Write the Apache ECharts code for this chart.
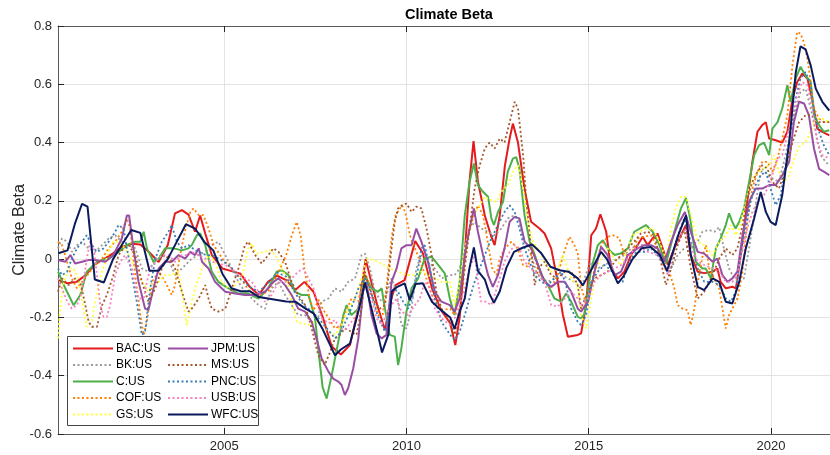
<!DOCTYPE html>
<html>
<head>
<meta charset="utf-8">
<script src="https://cdn.jsdelivr.net/npm/echarts@6/dist/echarts.min.js"></script>
<style>
  html, body { margin: 0; padding: 0; background: #fff; }
  #chart { width: 830px; height: 455px; }
</style>
</head>
<body>
<div id="chart"></div>
<script>
// [year, beta] pairs
var bacData = [[2000.45,-0.072],[2000.7,-0.083],[2000.95,-0.078],[2001.2,-0.055],[2001.45,-0.018],[2001.7,0.0],[2001.95,0.02],[2002.2,0.042],[2002.45,0.053],[2002.7,0.05],[2002.95,0.023],[2003.2,-0.01],[2003.45,0.048],[2003.65,0.157],[2003.84,0.168],[2004.02,0.153],[2004.2,0.094],[2004.34,0.15],[2004.48,0.088],[2004.66,0.014],[2004.95,-0.032],[2005.2,-0.041],[2005.45,-0.05],[2005.7,-0.095],[2005.95,-0.123],[2006.2,-0.078],[2006.45,-0.057],[2006.7,-0.072],[2006.95,-0.106],[2007.2,-0.078],[2007.45,-0.112],[2007.7,-0.198],[2007.95,-0.3],[2008.2,-0.327],[2008.45,-0.295],[2008.7,-0.158],[2008.88,0.0],[2009.0,-0.06],[2009.2,-0.158],[2009.41,-0.243],[2009.55,-0.15],[2009.7,-0.089],[2009.95,-0.072],[2010.24,0.062],[2010.45,0.02],[2010.7,-0.1],[2010.95,-0.175],[2011.2,-0.22],[2011.34,-0.295],[2011.46,-0.2],[2011.6,0.014],[2011.73,0.267],[2011.84,0.405],[2011.96,0.267],[2012.15,0.15],[2012.32,0.08],[2012.42,0.048],[2012.56,0.15],[2012.7,0.32],[2012.83,0.414],[2012.92,0.465],[2013.06,0.4],[2013.24,0.24],[2013.42,0.128],[2013.65,0.105],[2013.79,0.088],[2013.97,0.037],[2014.15,-0.077],[2014.29,-0.19],[2014.43,-0.266],[2014.7,-0.26],[2014.79,-0.255],[2014.93,-0.158],[2015.07,0.082],[2015.2,0.105],[2015.32,0.154],[2015.48,0.094],[2015.61,-0.032],[2015.8,-0.066],[2015.98,-0.043],[2016.16,0.014],[2016.34,0.048],[2016.48,0.077],[2016.62,0.048],[2016.75,0.071],[2016.89,0.088],[2017.03,0.037],[2017.17,-0.02],[2017.35,0.037],[2017.53,0.082],[2017.67,0.117],[2017.8,0.014],[2017.99,-0.043],[2018.17,-0.048],[2018.4,-0.043],[2018.53,-0.032],[2018.62,-0.078],[2018.76,-0.1],[2018.95,-0.095],[2019.04,-0.1],[2019.17,0.014],[2019.35,0.197],[2019.49,0.334],[2019.63,0.437],[2019.76,0.46],[2019.86,0.47],[2019.95,0.414],[2020.13,0.408],[2020.31,0.4],[2020.45,0.437],[2020.59,0.55],[2020.72,0.608],[2020.86,0.637],[2021.0,0.62],[2021.13,0.55],[2021.27,0.448],[2021.41,0.437],[2021.6,0.425]];

var bkData = [[2000.44,0.037],[2000.55,0.071],[2000.69,0.06],[2000.82,0.025],[2000.96,0.048],[2001.1,0.06],[2001.28,0.037],[2001.46,0.025],[2001.65,0.048],[2001.83,0.071],[2002.01,0.082],[2002.19,0.06],[2002.38,0.048],[2002.56,0.037],[2002.74,-0.032],[2002.92,-0.043],[2003.11,0.002],[2003.29,0.014],[2003.47,0.002],[2003.65,-0.055],[2003.84,-0.032],[2004.02,-0.009],[2004.11,0.002],[2004.3,0.014],[2004.48,0.025],[2004.66,0.048],[2004.84,0.06],[2005.03,0.014],[2005.21,-0.032],[2005.39,-0.078],[2005.57,-0.112],[2005.76,-0.135],[2005.94,-0.158],[2006.12,-0.17],[2006.3,-0.1],[2006.49,-0.078],[2006.67,-0.123],[2006.85,-0.158],[2007.03,-0.192],[2007.22,-0.192],[2007.4,-0.215],[2007.58,-0.2],[2007.67,-0.146],[2007.86,-0.135],[2008.04,-0.1],[2008.22,-0.112],[2008.4,-0.078],[2008.59,-0.066],[2008.77,0.014],[2008.86,0.019],[2009.0,-0.032],[2009.13,-0.112],[2009.32,-0.146],[2009.45,-0.123],[2009.59,-0.066],[2009.73,-0.112],[2009.86,-0.226],[2010.0,-0.238],[2010.14,-0.17],[2010.27,-0.032],[2010.41,0.014],[2010.59,-0.009],[2010.78,-0.032],[2010.96,-0.066],[2011.19,-0.055],[2011.32,-0.055],[2011.46,-0.032],[2011.6,0.037],[2011.73,0.105],[2011.87,0.128],[2012.05,0.105],[2012.24,0.094],[2012.42,0.082],[2012.6,0.105],[2012.78,0.14],[2012.97,0.151],[2013.1,0.128],[2013.24,0.06],[2013.42,0.014],[2013.56,-0.043],[2013.7,-0.066],[2013.88,-0.078],[2014.06,-0.066],[2014.25,-0.055],[2014.43,-0.066],[2014.61,-0.078],[2014.79,-0.1],[2014.98,-0.032],[2015.07,-0.009],[2015.25,-0.032],[2015.43,-0.02],[2015.61,-0.009],[2015.8,0.002],[2015.98,0.014],[2016.16,0.037],[2016.34,0.048],[2016.53,0.048],[2016.71,0.042],[2016.89,0.037],[2017.08,0.002],[2017.26,-0.032],[2017.44,0.014],[2017.62,0.037],[2017.8,0.048],[2017.99,0.06],[2018.12,0.094],[2018.3,0.1],[2018.45,0.094],[2018.58,0.11],[2018.71,0.037],[2018.85,-0.032],[2018.99,-0.066],[2019.13,-0.078],[2019.26,-0.066],[2019.4,0.037],[2019.54,0.151],[2019.67,0.265],[2019.76,0.311],[2019.9,0.288],[2020.04,0.277],[2020.22,0.265],[2020.4,0.357],[2020.54,0.437],[2020.68,0.517],[2020.81,0.574],[2020.95,0.585],[2021.09,0.517],[2021.23,0.437],[2021.36,0.357],[2021.5,0.334],[2021.6,0.322]];

var cData = [[2000.44,-0.043],[2000.64,-0.1],[2000.87,-0.158],[2001.05,-0.123],[2001.23,-0.043],[2001.51,-0.009],[2001.83,0.002],[2002.1,0.025],[2002.33,0.048],[2002.56,0.06],[2002.7,0.06],[2002.79,0.094],[2002.88,0.037],[2003.06,-0.009],[2003.2,0.0],[2003.38,0.037],[2003.61,0.037],[2003.84,0.03],[2004.02,0.037],[2004.11,0.048],[2004.25,0.082],[2004.34,0.088],[2004.48,0.048],[2004.66,-0.043],[2004.84,-0.078],[2005.12,-0.1],[2005.39,-0.118],[2005.66,-0.118],[2005.94,-0.135],[2006.21,-0.1],[2006.44,-0.043],[2006.58,-0.038],[2006.76,-0.055],[2006.94,-0.112],[2007.13,-0.123],[2007.31,-0.123],[2007.49,-0.2],[2007.6,-0.33],[2007.7,-0.44],[2007.81,-0.478],[2007.95,-0.398],[2008.13,-0.283],[2008.27,-0.192],[2008.36,-0.158],[2008.49,-0.192],[2008.68,-0.17],[2008.86,-0.055],[2009.04,-0.1],[2009.22,-0.112],[2009.32,-0.1],[2009.41,-0.17],[2009.54,-0.26],[2009.68,-0.266],[2009.77,-0.363],[2009.86,-0.306],[2010.0,-0.18],[2010.14,-0.1],[2010.32,-0.066],[2010.5,0.002],[2010.69,0.008],[2010.87,-0.02],[2011.05,-0.049],[2011.19,-0.135],[2011.32,-0.192],[2011.46,-0.078],[2011.6,0.15],[2011.73,0.265],[2011.85,0.328],[2011.96,0.254],[2012.1,0.231],[2012.24,0.214],[2012.33,0.14],[2012.4,0.117],[2012.51,0.162],[2012.65,0.197],[2012.78,0.3],[2012.92,0.345],[2013.01,0.35],[2013.1,0.31],[2013.24,0.15],[2013.38,0.06],[2013.52,0.014],[2013.7,-0.055],[2013.88,-0.089],[2014.06,-0.135],[2014.25,-0.146],[2014.38,-0.118],[2014.52,-0.146],[2014.7,-0.198],[2014.79,-0.203],[2014.88,-0.19],[2015.07,-0.032],[2015.25,0.048],[2015.39,0.065],[2015.52,0.037],[2015.71,0.014],[2015.89,0.02],[2016.07,0.037],[2016.25,0.094],[2016.57,0.117],[2016.76,0.094],[2016.94,0.048],[2017.12,-0.015],[2017.35,0.094],[2017.53,0.174],[2017.67,0.21],[2017.8,0.128],[2017.94,-0.009],[2018.12,-0.032],[2018.21,-0.032],[2018.35,-0.066],[2018.49,0.037],[2018.62,0.071],[2018.76,0.117],[2018.85,0.157],[2018.94,0.128],[2019.03,0.105],[2019.13,0.128],[2019.26,0.174],[2019.4,0.265],[2019.54,0.357],[2019.67,0.39],[2019.81,0.4],[2019.95,0.357],[2020.04,0.448],[2020.18,0.47],[2020.31,0.517],[2020.45,0.597],[2020.54,0.54],[2020.68,0.62],[2020.81,0.66],[2020.95,0.63],[2021.09,0.608],[2021.18,0.494],[2021.32,0.46],[2021.45,0.437],[2021.6,0.442]];

var cofData = [[2000.44,0.06],[2000.55,0.048],[2000.69,-0.009],[2000.82,-0.066],[2000.96,-0.1],[2001.1,-0.078],[2001.28,-0.05],[2001.46,-0.02],[2001.65,0.002],[2001.83,0.037],[2002.01,0.06],[2002.19,0.094],[2002.33,0.14],[2002.42,0.105],[2002.56,-0.055],[2002.7,-0.192],[2002.79,-0.26],[2002.88,-0.215],[2003.02,-0.078],[2003.2,-0.043],[2003.38,-0.078],[2003.56,-0.123],[2003.65,-0.089],[2003.79,0.014],[2003.93,0.1],[2004.07,0.162],[2004.16,0.174],[2004.3,0.151],[2004.43,0.151],[2004.57,0.105],[2004.71,0.048],[2004.95,0.002],[2005.2,-0.032],[2005.45,-0.066],[2005.7,-0.112],[2005.95,-0.123],[2006.2,-0.112],[2006.45,-0.055],[2006.7,0.014],[2006.85,0.08],[2006.99,0.128],[2007.1,0.08],[2007.2,-0.032],[2007.35,-0.14],[2007.45,-0.175],[2007.6,-0.14],[2007.7,-0.17],[2007.95,-0.22],[2008.04,-0.238],[2008.2,-0.226],[2008.49,-0.135],[2008.68,-0.145],[2008.86,-0.043],[2009.0,-0.1],[2009.22,-0.192],[2009.35,-0.19],[2009.45,-0.1],[2009.6,0.08],[2009.7,0.15],[2009.88,0.185],[2009.97,0.16],[2010.1,0.08],[2010.2,0.048],[2010.45,-0.032],[2010.7,-0.123],[2010.95,-0.175],[2011.2,-0.17],[2011.32,-0.192],[2011.45,-0.13],[2011.7,0.082],[2011.85,0.15],[2011.96,0.185],[2012.1,0.15],[2012.2,0.082],[2012.35,-0.03],[2012.47,-0.055],[2012.56,0.002],[2012.7,0.037],[2012.88,0.06],[2013.05,0.037],[2013.2,-0.02],[2013.33,-0.026],[2013.47,0.037],[2013.6,-0.032],[2013.79,-0.078],[2013.97,-0.1],[2014.15,-0.055],[2014.3,0.014],[2014.47,0.077],[2014.6,0.05],[2014.7,0.02],[2014.79,-0.09],[2014.93,-0.158],[2015.02,-0.12],[2015.16,-0.032],[2015.34,0.048],[2015.52,0.077],[2015.71,0.082],[2015.84,0.071],[2015.98,0.014],[2016.16,0.014],[2016.34,0.071],[2016.53,0.077],[2016.71,0.082],[2016.89,0.037],[2017.08,-0.03],[2017.21,-0.043],[2017.35,-0.1],[2017.44,-0.158],[2017.58,-0.17],[2017.71,-0.175],[2017.8,-0.226],[2017.9,-0.17],[2017.99,-0.078],[2018.13,0.014],[2018.22,0.048],[2018.3,-0.03],[2018.44,-0.066],[2018.58,-0.1],[2018.67,-0.17],[2018.76,-0.238],[2018.85,-0.192],[2018.94,-0.17],[2019.08,-0.135],[2019.22,-0.043],[2019.35,0.128],[2019.49,0.242],[2019.63,0.3],[2019.76,0.334],[2019.9,0.334],[2020.04,0.3],[2020.18,0.345],[2020.31,0.414],[2020.45,0.494],[2020.59,0.665],[2020.72,0.78],[2020.81,0.774],[2020.9,0.745],[2021.0,0.688],[2021.09,0.608],[2021.18,0.517],[2021.32,0.482],[2021.45,0.47],[2021.6,0.47]];

var gsData = [[2000.44,-0.272],[2000.5,-0.17],[2000.6,-0.078],[2000.73,-0.032],[2000.87,-0.032],[2001.0,-0.066],[2001.14,-0.17],[2001.23,-0.232],[2001.37,-0.215],[2001.46,-0.146],[2001.65,-0.043],[2001.83,0.025],[2001.96,0.06],[2002.1,0.06],[2002.28,0.037],[2002.47,-0.009],[2002.7,-0.066],[2002.92,-0.112],[2003.06,-0.078],[2003.2,-0.078],[2003.38,-0.055],[2003.56,-0.055],[2003.75,-0.043],[2003.88,-0.146],[2003.97,-0.226],[2004.07,-0.17],[2004.2,-0.1],[2004.39,-0.032],[2004.57,0.014],[2004.75,-0.009],[2004.93,-0.078],[2005.12,-0.1],[2005.3,-0.089],[2005.48,-0.066],[2005.66,0.037],[2005.76,0.054],[2005.89,0.019],[2006.08,0.025],[2006.26,0.031],[2006.4,0.014],[2006.58,-0.032],[2006.71,-0.066],[2006.85,-0.146],[2006.99,-0.215],[2007.13,-0.22],[2007.31,-0.226],[2007.49,-0.215],[2007.67,-0.215],[2007.86,-0.249],[2008.04,-0.26],[2008.22,-0.226],[2008.4,-0.17],[2008.59,-0.135],[2008.77,-0.066],[2008.9,0.002],[2009.09,-0.003],[2009.32,-0.015],[2009.54,-0.032],[2009.77,-0.043],[2010.0,-0.055],[2010.23,-0.055],[2010.41,-0.043],[2010.59,-0.055],[2010.78,-0.066],[2010.96,-0.078],[2011.19,-0.078],[2011.32,-0.158],[2011.46,-0.078],[2011.6,0.037],[2011.73,0.105],[2011.87,0.162],[2012.01,0.185],[2012.15,0.214],[2012.33,0.202],[2012.47,0.197],[2012.6,0.231],[2012.78,0.254],[2012.92,0.3],[2013.06,0.322],[2013.2,0.242],[2013.33,0.128],[2013.47,0.06],[2013.61,0.037],[2013.79,-0.009],[2013.97,-0.043],[2014.15,-0.032],[2014.29,0.014],[2014.38,-0.02],[2014.52,-0.066],[2014.7,-0.089],[2014.79,-0.192],[2014.93,-0.238],[2015.07,-0.135],[2015.2,-0.032],[2015.39,0.014],[2015.52,0.037],[2015.71,0.002],[2015.89,-0.02],[2016.07,0.037],[2016.21,0.082],[2016.39,0.094],[2016.57,0.105],[2016.76,0.105],[2016.94,0.06],[2017.12,0.002],[2017.26,0.105],[2017.39,0.174],[2017.53,0.214],[2017.67,0.214],[2017.8,0.151],[2017.99,0.06],[2018.17,0.048],[2018.4,0.014],[2018.58,0.06],[2018.76,0.082],[2018.9,0.117],[2019.03,0.082],[2019.13,0.105],[2019.26,0.174],[2019.4,0.242],[2019.54,0.288],[2019.67,0.3],[2019.81,0.311],[2019.95,0.322],[2020.08,0.357],[2020.22,0.3],[2020.36,0.265],[2020.5,0.288],[2020.63,0.345],[2020.77,0.385],[2020.95,0.402],[2021.09,0.437],[2021.23,0.482],[2021.41,0.482],[2021.6,0.47]];

var jpmData = [[2000.44,-0.003],[2000.64,-0.009],[2000.78,0.014],[2000.91,-0.015],[2001.1,-0.009],[2001.28,-0.003],[2001.46,-0.003],[2001.74,-0.009],[2001.96,0.014],[2002.19,0.071],[2002.33,0.15],[2002.39,0.15],[2002.51,0.037],[2002.65,-0.078],[2002.83,-0.17],[2002.92,-0.175],[2003.06,-0.1],[2003.2,-0.032],[2003.38,-0.009],[2003.56,-0.009],[2003.75,0.014],[2003.93,0.002],[2004.07,0.025],[2004.2,0.014],[2004.3,0.037],[2004.39,-0.009],[2004.57,-0.032],[2004.75,-0.078],[2004.84,-0.089],[2005.03,-0.112],[2005.3,-0.118],[2005.57,-0.123],[2005.85,-0.123],[2006.12,-0.112],[2006.35,-0.078],[2006.49,-0.066],[2006.67,-0.089],[2006.85,-0.123],[2007.03,-0.17],[2007.22,-0.18],[2007.4,-0.215],[2007.58,-0.295],[2007.67,-0.34],[2007.86,-0.386],[2007.99,-0.41],[2008.13,-0.42],[2008.22,-0.432],[2008.31,-0.466],[2008.4,-0.443],[2008.54,-0.375],[2008.68,-0.272],[2008.81,-0.112],[2008.9,-0.078],[2009.04,-0.192],[2009.18,-0.255],[2009.32,-0.272],[2009.45,-0.26],[2009.59,-0.078],[2009.73,-0.032],[2009.86,0.037],[2010.0,0.048],[2010.14,0.048],[2010.27,0.105],[2010.41,0.06],[2010.59,-0.009],[2010.78,-0.112],[2010.96,-0.146],[2011.19,-0.158],[2011.32,-0.18],[2011.46,-0.135],[2011.6,0.014],[2011.73,0.105],[2011.85,0.174],[2011.96,0.094],[2012.1,0.014],[2012.24,-0.055],[2012.37,-0.095],[2012.51,-0.055],[2012.69,0.037],[2012.83,0.128],[2012.97,0.145],[2013.1,0.14],[2013.24,0.06],[2013.42,0.037],[2013.61,-0.02],[2013.79,-0.078],[2013.97,-0.095],[2014.15,-0.078],[2014.34,-0.078],[2014.52,-0.112],[2014.7,-0.17],[2014.79,-0.18],[2014.98,-0.146],[2015.16,-0.043],[2015.34,0.042],[2015.52,0.014],[2015.71,-0.055],[2015.89,-0.043],[2016.07,0.014],[2016.34,0.037],[2016.53,0.048],[2016.71,0.048],[2016.89,0.037],[2017.08,-0.009],[2017.26,0.06],[2017.44,0.117],[2017.64,0.162],[2017.8,0.094],[2017.99,0.025],[2018.17,0.019],[2018.4,-0.009],[2018.53,0.002],[2018.67,-0.055],[2018.81,-0.078],[2018.94,-0.066],[2019.08,-0.043],[2019.22,0.082],[2019.4,0.197],[2019.58,0.242],[2019.76,0.242],[2019.95,0.254],[2020.13,0.254],[2020.31,0.288],[2020.5,0.334],[2020.63,0.471],[2020.77,0.54],[2020.91,0.534],[2021.04,0.494],[2021.18,0.38],[2021.32,0.31],[2021.45,0.3],[2021.6,0.288]];

var msData = [[2000.44,-0.112],[2000.55,-0.066],[2000.73,-0.089],[2000.91,-0.066],[2001.05,-0.078],[2001.19,-0.158],[2001.28,-0.215],[2001.37,-0.232],[2001.51,-0.232],[2001.65,-0.158],[2001.78,-0.123],[2001.96,-0.055],[2002.1,0.014],[2002.24,0.037],[2002.38,0.048],[2002.56,0.014],[2002.74,-0.078],[2002.92,-0.146],[2003.11,-0.1],[2003.29,-0.032],[2003.47,0.014],[2003.65,-0.032],[2003.84,-0.112],[2004.02,-0.18],[2004.11,-0.17],[2004.3,-0.135],[2004.48,-0.089],[2004.57,-0.135],[2004.66,-0.17],[2004.84,-0.18],[2005.03,-0.17],[2005.21,-0.1],[2005.39,-0.032],[2005.57,0.048],[2005.66,0.06],[2005.85,0.014],[2006.03,-0.015],[2006.21,0.014],[2006.35,0.037],[2006.49,0.025],[2006.67,-0.009],[2006.85,-0.078],[2007.03,-0.123],[2007.22,-0.158],[2007.4,-0.238],[2007.58,-0.33],[2007.76,-0.363],[2007.9,-0.32],[2008.04,-0.272],[2008.17,-0.26],[2008.31,-0.238],[2008.49,-0.249],[2008.63,-0.26],[2008.77,-0.17],[2008.86,-0.043],[2009.0,-0.112],[2009.13,-0.146],[2009.27,-0.17],[2009.41,-0.158],[2009.5,-0.066],[2009.59,0.037],[2009.68,0.128],[2009.77,0.174],[2009.88,0.185],[2010.0,0.191],[2010.14,0.162],[2010.27,0.18],[2010.41,0.174],[2010.55,0.105],[2010.69,0.014],[2010.82,-0.112],[2010.96,-0.17],[2011.19,-0.215],[2011.32,-0.26],[2011.46,-0.17],[2011.6,-0.032],[2011.73,0.105],[2011.87,0.242],[2012.01,0.322],[2012.15,0.38],[2012.28,0.4],[2012.42,0.38],[2012.56,0.414],[2012.69,0.4],[2012.83,0.47],[2012.97,0.54],[2013.06,0.517],[2013.2,0.357],[2013.29,0.197],[2013.42,0.037],[2013.52,-0.089],[2013.61,-0.032],[2013.79,-0.009],[2013.97,-0.055],[2014.15,-0.066],[2014.34,-0.043],[2014.52,-0.043],[2014.7,-0.089],[2014.79,-0.17],[2014.98,-0.11],[2015.16,-0.066],[2015.34,-0.055],[2015.52,-0.043],[2015.71,-0.009],[2015.89,0.014],[2016.07,0.037],[2016.25,0.06],[2016.43,0.088],[2016.62,0.094],[2016.8,0.082],[2016.98,-0.009],[2017.12,-0.089],[2017.26,-0.032],[2017.44,0.048],[2017.62,0.105],[2017.8,-0.03],[2017.99,-0.135],[2018.17,-0.112],[2018.4,-0.055],[2018.58,0.002],[2018.76,0.037],[2018.94,0.014],[2019.08,0.037],[2019.22,0.117],[2019.35,0.208],[2019.49,0.265],[2019.63,0.3],[2019.76,0.322],[2019.9,0.311],[2020.04,0.265],[2020.22,0.242],[2020.4,0.31],[2020.59,0.4],[2020.77,0.47],[2020.95,0.494],[2021.13,0.494],[2021.32,0.47],[2021.6,0.47]];

var pncData = [[2000.44,-0.032],[2000.55,-0.055],[2000.69,-0.043],[2000.82,0.002],[2000.96,0.037],[2001.1,0.06],[2001.23,0.082],[2001.37,0.048],[2001.51,0.025],[2001.69,0.037],[2001.83,0.06],[2002.01,0.094],[2002.1,0.117],[2002.24,0.105],[2002.33,0.037],[2002.47,-0.055],[2002.6,-0.146],[2002.74,-0.26],[2002.83,-0.249],[2002.97,-0.1],[2003.11,0.002],[2003.29,0.06],[2003.47,0.094],[2003.56,0.117],[2003.7,0.06],[2003.84,0.037],[2004.02,0.048],[2004.2,0.031],[2004.45,0.016],[2004.7,0.011],[2004.95,-0.005],[2005.2,-0.03],[2005.45,-0.069],[2005.7,-0.095],[2005.95,-0.112],[2006.2,-0.083],[2006.45,-0.046],[2006.7,-0.06],[2006.95,-0.118],[2007.2,-0.16],[2007.45,-0.184],[2007.7,-0.22],[2008.04,-0.272],[2008.2,-0.251],[2008.45,-0.18],[2008.7,-0.095],[2008.86,-0.066],[2009.0,-0.1],[2009.2,-0.19],[2009.41,-0.249],[2009.5,-0.19],[2009.64,-0.1],[2009.77,-0.112],[2009.91,-0.146],[2010.05,-0.17],[2010.18,-0.123],[2010.32,-0.032],[2010.41,0.037],[2010.5,0.048],[2010.64,-0.032],[2010.78,-0.135],[2010.96,-0.215],[2011.2,-0.26],[2011.32,-0.278],[2011.46,-0.249],[2011.6,-0.192],[2011.73,-0.135],[2011.87,-0.078],[2012.01,-0.032],[2012.15,0.014],[2012.33,0.071],[2012.51,0.117],[2012.69,0.162],[2012.83,0.185],[2012.97,0.162],[2013.1,0.105],[2013.24,0.037],[2013.38,-0.009],[2013.52,-0.055],[2013.7,-0.078],[2013.88,-0.089],[2014.06,-0.066],[2014.25,-0.043],[2014.38,-0.089],[2014.52,-0.17],[2014.7,-0.215],[2014.79,-0.226],[2014.93,-0.192],[2015.07,-0.078],[2015.25,-0.043],[2015.43,-0.02],[2015.61,-0.038],[2015.8,-0.078],[2015.93,-0.078],[2016.11,-0.009],[2016.3,0.025],[2016.53,0.025],[2016.71,0.037],[2016.89,0.014],[2017.08,-0.02],[2017.17,-0.049],[2017.3,0.014],[2017.48,0.094],[2017.62,0.14],[2017.8,0.06],[2017.99,-0.032],[2018.17,-0.078],[2018.4,-0.078],[2018.58,-0.089],[2018.76,-0.135],[2018.9,-0.146],[2019.03,-0.112],[2019.17,0.014],[2019.3,0.105],[2019.44,0.197],[2019.58,0.254],[2019.72,0.288],[2019.86,0.3],[2019.99,0.242],[2020.13,0.185],[2020.27,0.22],[2020.4,0.322],[2020.54,0.437],[2020.68,0.551],[2020.81,0.62],[2020.95,0.642],[2021.09,0.597],[2021.18,0.505],[2021.32,0.437],[2021.45,0.391],[2021.6,0.357]];

var usbData = [[2000.44,-0.066],[2000.55,-0.1],[2000.69,-0.146],[2000.82,-0.17],[2000.96,-0.158],[2001.1,-0.112],[2001.23,0.002],[2001.32,0.06],[2001.42,0.037],[2001.51,-0.055],[2001.6,-0.158],[2001.69,-0.198],[2001.78,-0.198],[2001.87,-0.158],[2002.01,-0.055],[2002.15,-0.009],[2002.28,0.014],[2002.47,-0.032],[2002.56,-0.089],[2002.65,-0.135],[2002.79,-0.135],[2002.88,-0.078],[2002.97,-0.032],[2003.11,-0.009],[2003.29,0.014],[2003.47,0.014],[2003.65,-0.009],[2003.84,0.014],[2004.02,0.014],[2004.11,0.025],[2004.3,0.014],[2004.48,0.002],[2004.66,-0.009],[2004.84,-0.015],[2005.03,-0.02],[2005.21,-0.032],[2005.39,-0.055],[2005.57,-0.066],[2005.76,-0.078],[2005.94,-0.112],[2006.12,-0.146],[2006.3,-0.123],[2006.49,-0.078],[2006.67,-0.078],[2006.85,-0.066],[2007.03,-0.043],[2007.17,-0.032],[2007.31,-0.066],[2007.45,-0.1],[2007.58,-0.158],[2007.67,-0.203],[2007.86,-0.22],[2008.04,-0.209],[2008.17,-0.238],[2008.31,-0.243],[2008.49,-0.215],[2008.63,-0.192],[2008.77,-0.112],[2008.9,-0.089],[2009.04,-0.135],[2009.18,-0.203],[2009.32,-0.226],[2009.45,-0.192],[2009.59,-0.158],[2009.73,-0.135],[2009.86,-0.18],[2010.05,-0.192],[2010.23,-0.158],[2010.37,-0.135],[2010.5,-0.078],[2010.64,-0.1],[2010.78,-0.17],[2010.96,-0.203],[2011.19,-0.226],[2011.32,-0.203],[2011.46,-0.158],[2011.6,-0.1],[2011.73,-0.032],[2011.87,0.014],[2011.96,-0.078],[2012.05,-0.146],[2012.19,-0.146],[2012.33,-0.158],[2012.42,-0.123],[2012.56,-0.066],[2012.69,-0.009],[2012.83,0.025],[2012.97,0.048],[2013.1,0.037],[2013.24,-0.009],[2013.42,-0.032],[2013.61,-0.055],[2013.79,-0.078],[2013.97,-0.158],[2014.15,-0.163],[2014.34,-0.135],[2014.52,-0.112],[2014.7,-0.135],[2014.79,-0.158],[2014.98,-0.135],[2015.16,-0.078],[2015.34,-0.055],[2015.52,-0.043],[2015.71,-0.032],[2015.89,-0.02],[2016.07,0.002],[2016.25,0.037],[2016.43,0.037],[2016.62,0.025],[2016.8,0.019],[2016.98,0.002],[2017.17,-0.055],[2017.35,0.037],[2017.53,0.082],[2017.67,0.105],[2017.8,0.048],[2017.99,-0.009],[2018.17,-0.02],[2018.4,-0.032],[2018.58,-0.043],[2018.76,-0.078],[2018.94,-0.078],[2019.08,-0.055],[2019.22,0.037],[2019.35,0.105],[2019.49,0.162],[2019.63,0.197],[2019.76,0.208],[2019.9,0.242],[2020.04,0.288],[2020.18,0.345],[2020.31,0.357],[2020.45,0.425],[2020.59,0.494],[2020.72,0.562],[2020.86,0.608],[2021.0,0.597],[2021.13,0.517],[2021.27,0.402],[2021.41,0.357],[2021.6,0.345]];

var wfcData = [[2000.45,0.02],[2000.7,0.03],[2000.9,0.12],[2001.1,0.19],[2001.25,0.18],[2001.45,-0.07],[2001.7,-0.08],[2001.95,0.0],[2002.2,0.05],[2002.45,0.1],[2002.7,0.09],[2002.95,-0.04],[2003.2,-0.04],[2003.45,0.0],[2003.7,0.06],[2003.95,0.12],[2004.2,0.105],[2004.45,0.06],[2004.7,0.03],[2004.95,-0.05],[2005.2,-0.1],[2005.45,-0.11],[2005.7,-0.11],[2005.95,-0.13],[2006.2,-0.135],[2006.45,-0.14],[2006.7,-0.145],[2006.95,-0.146],[2007.2,-0.167],[2007.45,-0.186],[2007.7,-0.24],[2008.04,-0.33],[2008.2,-0.31],[2008.45,-0.29],[2008.7,-0.17],[2008.86,-0.08],[2009.0,-0.15],[2009.2,-0.25],[2009.33,-0.32],[2009.5,-0.26],[2009.6,-0.11],[2009.75,-0.095],[2009.95,-0.083],[2010.09,-0.14],[2010.25,-0.085],[2010.45,-0.083],[2010.7,-0.146],[2010.95,-0.175],[2011.2,-0.2],[2011.32,-0.24],[2011.46,-0.18],[2011.6,-0.135],[2011.73,-0.03],[2011.85,0.04],[2011.96,-0.04],[2012.15,-0.07],[2012.28,-0.12],[2012.4,-0.15],[2012.56,-0.11],[2012.74,-0.03],[2012.95,0.025],[2013.2,0.04],[2013.45,0.05],[2013.7,0.02],[2013.95,-0.026],[2014.2,-0.038],[2014.45,-0.043],[2014.7,-0.066],[2014.84,-0.09],[2015.1,-0.03],[2015.34,0.025],[2015.5,0.0],[2015.8,-0.083],[2015.95,-0.06],[2016.2,0.0],[2016.45,0.037],[2016.7,0.042],[2016.95,0.014],[2017.15,-0.04],[2017.45,0.08],[2017.67,0.15],[2017.8,0.014],[2017.99,-0.095],[2018.17,-0.106],[2018.4,-0.066],[2018.58,-0.078],[2018.76,-0.146],[2018.94,-0.152],[2019.13,-0.078],[2019.31,0.037],[2019.54,0.14],[2019.72,0.23],[2019.86,0.162],[2019.99,0.128],[2020.13,0.117],[2020.31,0.22],[2020.5,0.4],[2020.68,0.64],[2020.81,0.73],[2020.95,0.72],[2021.09,0.665],[2021.23,0.585],[2021.41,0.54],[2021.6,0.51]];

var names = ['BAC:US', 'BK:US', 'C:US', 'COF:US', 'GS:US', 'JPM:US', 'MS:US', 'PNC:US', 'USB:US', 'WFC:US'];
var colors = ['#e41a1c', '#999999', '#4daf4a', '#ff7f00', '#ffff33', '#984ea3', '#a65628', '#377eb8', '#f781bf', '#0b1a5c'];
var dotted = [false, true, false, true, true, false, true, true, true, false];
var allData = [bacData, bkData, cData, cofData, gsData, jpmData, msData, pncData, usbData, wfcData];
var yearTicks = [2005, 2010, 2015, 2020];

var font = "'Liberation Sans', Arial, Helvetica, sans-serif";
var chart = echarts.init(document.getElementById('chart'));

var series = names.map(function (n, i) {
  return {
    name: n,
    type: 'line',
    data: allData[i],
    symbol: 'none',
    smooth: false,
    z: 2 + i * 0.01,
    lineStyle: {
      color: colors[i],
      width: dotted[i] ? 1.8 : 2,
      type: dotted[i] ? [2, 2.5] : 'solid',
      cap: 'butt'
    },
    itemStyle: { color: colors[i] },
    emphasis: { disabled: true }
  };
});

function legendBox(list, left) {
  return {
    data: list,
    orient: 'vertical',
    left: left,
    top: 337.5,
    itemWidth: 40,
    itemHeight: 12,
    itemGap: 4.5,
    itemStyle: { opacity: 0 },
    textStyle: { fontFamily: font, fontSize: 12, color: '#000', padding: [0, 0, 0, -2] },
    selectedMode: false
  };
}

chart.setOption({
  animation: false,
  title: {
    text: 'Climate Beta',
    left: 444,
    textAlign: 'center',
    top: 2,
    textStyle: { fontFamily: font, fontSize: 14.5, fontWeight: 'bold', color: '#000' }
  },
  grid: { left: 58, right: 0, top: 26, bottom: 21, containLabel: false, outerBoundsMode: 'none' },
  legend: [legendBox(names.slice(0, 5), 67), legendBox(names.slice(5), 162)],
  graphic: [{
    type: 'rect',
    shape: { x: 67.5, y: 336.5, width: 191, height: 89 },
    style: { fill: '#fff', stroke: '#444', lineWidth: 1 },
    z: 3
  }],
  xAxis: [{
    type: 'value',
    min: 2000.44,
    max: 2021.62,
    axisLine: { show: true, onZero: false, lineStyle: { color: '#5a5a5a' } },
    axisTick: { show: true, inside: true, length: 6, customValues: yearTicks, lineStyle: { color: '#262626' } },
    axisLabel: {
      customValues: yearTicks, fontFamily: font, fontSize: 13, color: '#262626', margin: 6,
      formatter: function (v) { return String(Math.round(v)); }
    },
    splitLine: { show: true, lineStyle: { color: '#e3e3e3', width: 1 } }
  }, {
    type: 'value',
    position: 'top',
    min: 2000.44,
    max: 2021.62,
    axisLine: { show: true, onZero: false, lineStyle: { color: '#5a5a5a' } },
    axisTick: { show: true, inside: true, length: 6, customValues: yearTicks, lineStyle: { color: '#262626' } },
    axisLabel: { show: false },
    splitLine: { show: false }
  }],
  yAxis: {
    type: 'value',
    min: -0.6,
    max: 0.8,
    interval: 0.2,
    name: 'Climate Beta',
    nameLocation: 'middle',
    nameGap: 30,
    nameMoveOverlap: false,
    nameTextStyle: { fontFamily: font, fontSize: 16, color: '#262626' },
    axisLine: { show: true, onZero: false, lineStyle: { color: '#5a5a5a' } },
    axisTick: { show: true, inside: true, length: 6, lineStyle: { color: '#262626' } },
    axisLabel: {
      fontFamily: font, fontSize: 13, color: '#262626', margin: 6,
      formatter: function (v) { return Math.abs(v) < 1e-9 ? '0' : v.toFixed(1); }
    },
    splitLine: { show: true, lineStyle: { color: '#e3e3e3', width: 1 } }
  },
  series: series
});
</script>
</body>
</html>
